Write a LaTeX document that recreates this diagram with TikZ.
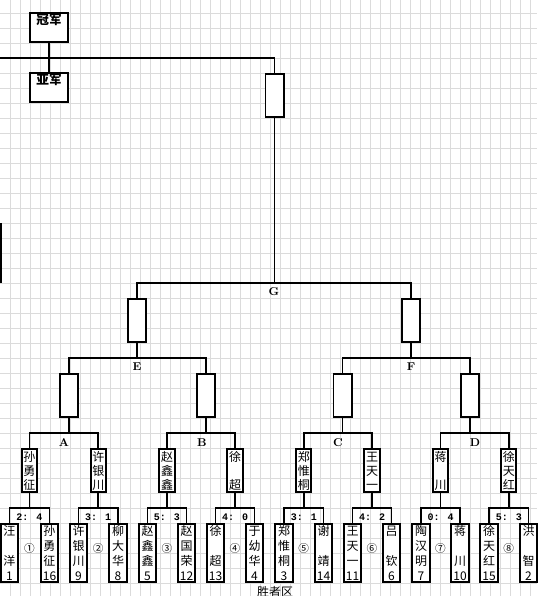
\documentclass[tikz,border=0pt]{standalone}
\usepackage{fontspec}
\newfontfamily\cjk{Noto Sans CJK SC}
\newfontfamily\scorefont{Liberation Mono}
\usetikzlibrary{positioning}

\begin{document}
\begin{tikzpicture}[
  x=0.75pt, y=-0.75pt,
  gridline/.style={gray!28, line width=0.5pt},
  link/.style={line width=1.2pt},
  player/.style={draw, fill=white, line width=1.4pt, minimum width=12.9pt, minimum height=43.6pt, inner sep=0pt, align=center, font=\cjk\fontsize{9}{11.2}\selectfont},
  winner/.style={draw, fill=white, line width=1.4pt, minimum width=11.4pt, minimum height=32.4pt, inner sep=0pt, align=center, font=\cjk\fontsize{9}{10.5}\selectfont},
  slot/.style={draw, fill=white, line width=1.4pt, minimum width=13.6pt, minimum height=32.4pt, inner sep=0pt},
  medal/.style={draw, fill=white, line width=1.4pt, minimum width=28.6pt, minimum height=21.8pt, inner sep=0pt},
  medaltext/.style={inner sep=0pt, font=\cjk\bfseries\fontsize{9.5}{10}\selectfont},
  score/.style={inner sep=0pt, font=\scorefont\bfseries\fontsize{7.5}{8}\selectfont},
  seq/.style={inner sep=0pt, font=\cjk\fontsize{8}{8}\selectfont},
  group/.style={inner sep=0pt, font=\bfseries\fontsize{8.5}{9}\selectfont}
]
\useasboundingbox (0,0) rectangle (537,596);
\fill[white] (0,0) rectangle (537,596);
% sheet grid
\foreach \gx in {10,20,...,530} \draw[gridline] (\gx,0) -- (\gx,596);
\foreach \gy in {13,28,...,593} \draw[gridline] (0,\gy) -- (537,\gy);
\fill (0,223) rectangle (2,283);

% first round
\node[player] (p1)  at (9.5,553)   {汪\\\mbox{}\\洋\\1};
\node[player] (p2)  at (49.5,553)  {孙\\勇\\征\\16};
\node[player] (p3)  at (78.5,553)  {许\\银\\川\\9};
\node[player] (p4)  at (118,553)   {柳\\大\\华\\8};
\node[player] (p5)  at (147.5,553) {赵\\鑫\\鑫\\5};
\node[player] (p6)  at (186.5,553) {赵\\国\\荣\\12};
\node[player] (p7)  at (215.5,553) {徐\\\mbox{}\\超\\13};
\node[player] (p8)  at (254.5,553) {于\\幼\\华\\4};
\node[player] (p9)  at (284,553)   {郑\\惟\\桐\\3};
\node[player] (p10) at (323.5,553) {谢\\\mbox{}\\靖\\14};
\node[player] (p11) at (352.5,553) {王\\天\\一\\11};
\node[player] (p12) at (391.5,553) {吕\\\mbox{}\\钦\\6};
\node[player] (p13) at (421,553)   {陶\\汉\\明\\7};
\node[player] (p14) at (460,553)   {蒋\\\mbox{}\\川\\10};
\node[player] (p15) at (489,553)   {徐\\天\\红\\15};
\node[player] (p16) at (528.5,553) {洪\\\mbox{}\\智\\2};

% match numbers and scores
\node[seq] (c1) at (29.5,548)   {①};
\node[seq] (c2) at (98.25,548)  {②};
\node[seq] (c3) at (167,548)    {③};
\node[seq] (c4) at (235,548)    {④};
\node[seq] (c5) at (303.75,548) {⑤};
\node[seq] (c6) at (372,548)    {⑥};
\node[seq] (c7) at (440.5,548)  {⑦};
\node[seq] (c8) at (508.75,548) {⑧};
\node[score] (s1) at (29.5,517)   {2: 4};
\node[score] (s2) at (98.25,517)  {3: 1};
\node[score] (s3) at (167,517)    {5: 3};
\node[score] (s4) at (235,517)    {4: 0};
\node[score] (s5) at (303.75,517) {3: 1};
\node[score] (s6) at (372,517)    {4: 2};
\node[score] (s7) at (440.5,517)  {0: 4};
\node[score] (s8) at (508.75,517) {5: 3};

% winners
\node[winner] (w1) at (29.5,470.5)   {孙\\勇\\征};
\node[winner] (w2) at (98.25,470.5)  {许\\银\\川};
\node[winner] (w3) at (167,470.5)    {赵\\鑫\\鑫};
\node[winner] (w4) at (235,470.5)    {徐\\\mbox{}\\超};
\node[winner] (w5) at (303.75,470.5) {郑\\惟\\桐};
\node[winner] (w6) at (372,470.5)    {王\\天\\一};
\node[winner] (w7) at (440.5,470.5)  {蒋\\\mbox{}\\川};
\node[winner] (w8) at (508.75,470.5) {徐\\天\\红};

% later rounds
\node[slot] (e1) at (69,395.5) {};
\node[slot] (e2) at (206,395.5) {};
\node[slot] (e3) at (342.5,395.5) {};
\node[slot] (e4) at (470,395.5) {};
\node[slot] (g1) at (137,320.5) {};
\node[slot] (g2) at (411,320.5) {};
\node[slot] (final) at (274.5,95.5) {};
\node[medal] (champion) at (49,27.5) {};
\node[medal] (runnerup) at (49,87.5) {};
\node[medaltext, below=1.5pt of champion.north] (champtext) {冠军};
\node[medaltext, below=1.5pt of runnerup.north] (runnertext) {亚军};

\node[group] (lA) at (64,443) {A};
\node[group] (lB) at (202,443) {B};
\node[group] (lC) at (338,443) {C};
\node[group] (lD) at (475,443) {D};
\node[group] (lE) at (137,367) {E};
\node[group] (lF) at (411,367) {F};
\node[group] (lG) at (274,292) {G};
\node[inner sep=0pt, font=\cjk\fontsize{9}{10}\selectfont, anchor=north] (zone) at (275,586) {胜者区};

% match brackets
\coordinate (m1) at (29.5,508);
\coordinate (m2) at (98.25,508);
\coordinate (m3) at (167,508);
\coordinate (m4) at (235,508);
\coordinate (m5) at (303.75,508);
\coordinate (m6) at (372,508);
\coordinate (m7) at (440.5,508);
\coordinate (m8) at (508.75,508);
\draw[link] (p1.north) |- (m1) -| (p2.north);
\draw[link] (p3.north) |- (m2) -| (p4.north);
\draw[link] (p5.north) |- (m3) -| (p6.north);
\draw[link] (p7.north) |- (m4) -| (p8.north);
\draw[link] (p9.north) |- (m5) -| (p10.north);
\draw[link] (p11.north) |- (m6) -| (p12.north);
\draw[link] (p13.north) |- (m7) -| (p14.north);
\draw[link] (p15.north) |- (m8) -| (p16.north);
\draw[link] (w1) -- (m1);
\draw[link] (w2) -- (m2);
\draw[link] (w3) -- (m3);
\draw[link] (w4) -- (m4);
\draw[link] (w5) -- (m5);
\draw[link] (w6) -- (m6);
\draw[link] (w7) -- (m7);
\draw[link] (w8) -- (m8);

% group brackets
\coordinate (jA) at (69,433);
\coordinate (jB) at (206,433);
\coordinate (jC) at (342.5,433);
\coordinate (jD) at (470,433);
\coordinate (jE) at (137,358);
\coordinate (jF) at (411,358);
\coordinate (jG) at (274.5,283);
\coordinate (rim) at (0,58);
\draw[link] (w1.north) |- (jA) -| (w2.north);
\draw[link] (w3.north) |- (jB) -| (w4.north);
\draw[link] (w5.north) |- (jC) -| (w6.north);
\draw[link] (w7.north) |- (jD) -| (w8.north);
\draw[link] (e1) -- (jA);
\draw[link] (e2) -- (jB);
\draw[link] (e3) -- (jC);
\draw[link] (e4) -- (jD);
\draw[link] (e1.north) |- (jE) -| (e2.north);
\draw[link] (e3.north) |- (jF) -| (e4.north);
\draw[link] (g1) -- (jE);
\draw[link] (g2) -- (jF);
\draw[link] (g1.north) |- (jG) -| (g2.north);
\draw[link] (final) -- (jG);
\draw[link] (rim) -| (final.north);
\draw[link] (champion) -- (runnerup);
\end{tikzpicture}
\end{document}
